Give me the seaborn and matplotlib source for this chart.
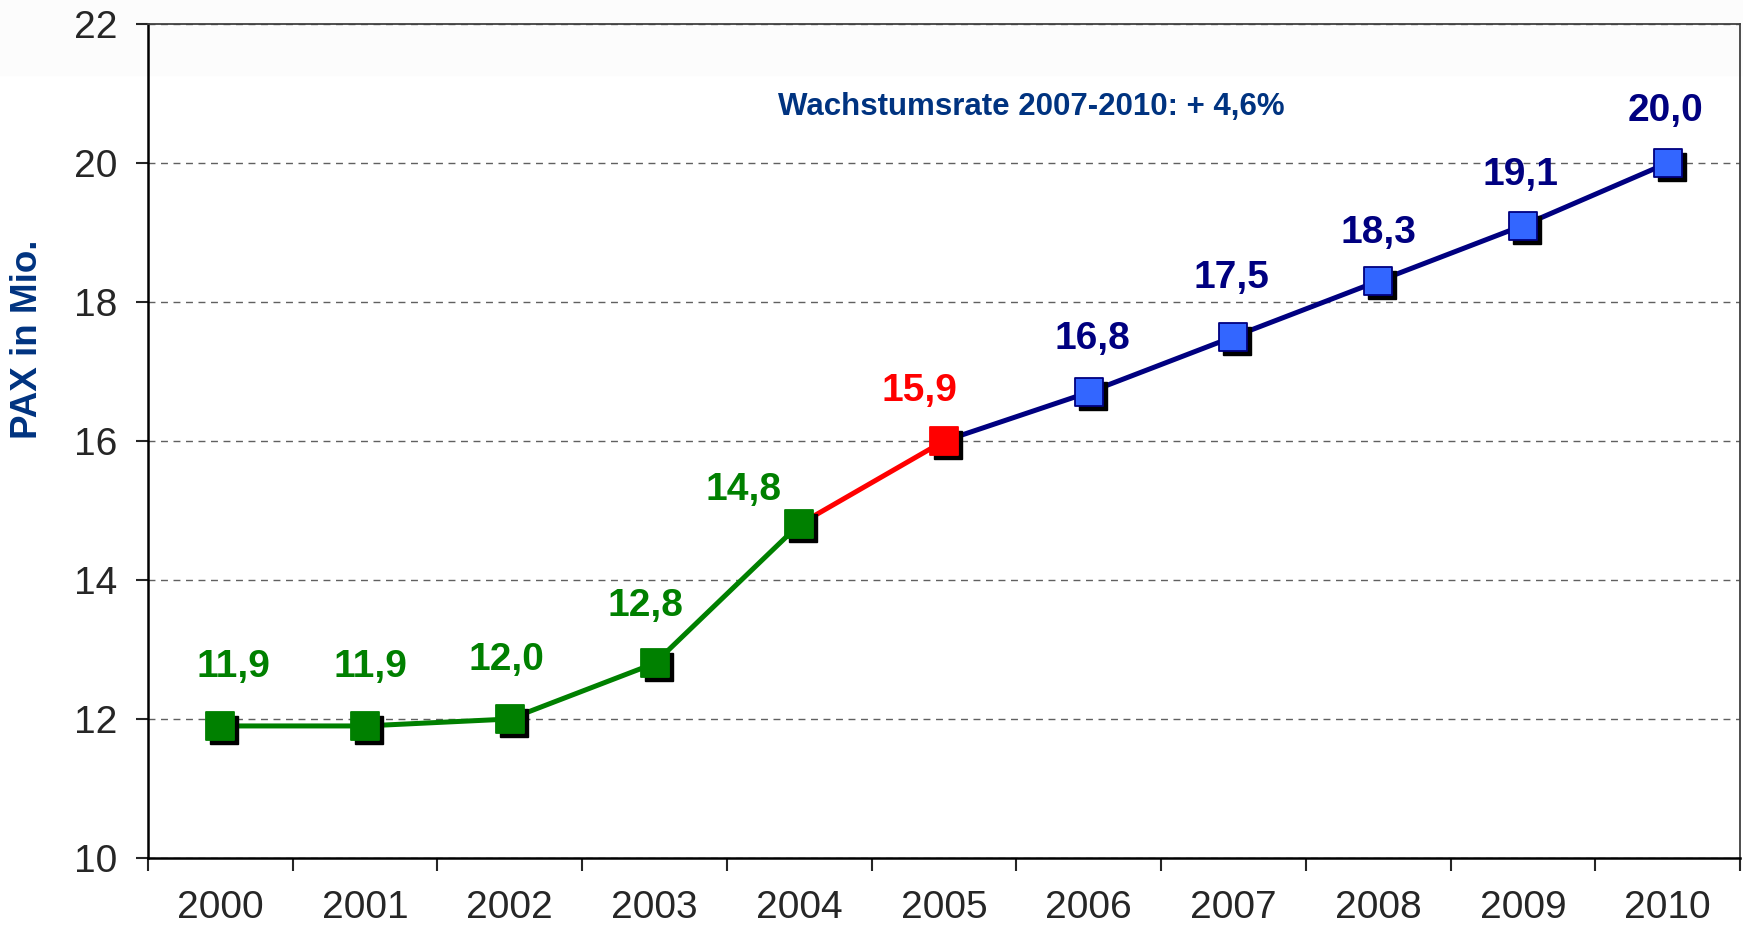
import matplotlib
matplotlib.use("Agg")
import matplotlib.pyplot as plt
import matplotlib.transforms as mtransforms
from matplotlib.patches import Rectangle
import pandas as pd
import seaborn as sns

# data
years = ["2000", "2001", "2002", "2003", "2004", "2005", "2006", "2007", "2008", "2009", "2010"]
pax = [11.9, 11.9, 12.0, 12.8, 14.8, 16.0, 16.7, 17.5, 18.3, 19.1, 20.0]
value_labels = ["11,9", "11,9", "12,0", "12,8", "14,8", "15,9", "16,8", "17,5", "18,3", "19,1", "20,0"]
phase = ["hist"] * 5 + ["ref"] + ["prog"] * 5
growth_note = "Wachstumsrate 2007-2010: + 4,6%"
y_title = "PAX in Mio."

GREEN = "#008000"
RED = "#FF0000"
NAVY = "#000080"
BLUE = "#3366FF"
TITLE_BLUE = "#003380"

# label offsets in pixels relative to the marker
label_offsets = [(13, 59), (5, 59), (-3, 59), (-9, 57), (-56, 34), (-25, 50),
                 (4, 53), (-2, 59), (0, 48), (-2, 51), (-2, 52)]

sns.set_style("ticks")
plt.rcParams["font.family"] = ["Liberation Sans", "DejaVu Sans"]

df = pd.DataFrame({"pos": range(len(years)), "pax": pax, "phase": phase})

fig = plt.figure(figsize=(17.43, 9.31), dpi=100)
fig.patch.set_facecolor("white")
fig.add_artist(Rectangle((0, 1 - 75 / 931), 1, 75 / 931, transform=fig.transFigure,
                         color="#fcfcfc", zorder=-5))
ax = fig.add_axes([148 / 1743, 1 - 858 / 931, (1740 - 148) / 1743, (858 - 24) / 931])
ax.set_facecolor("none")

# line segments
seg_specs = [(slice(0, 5), GREEN), (slice(4, 6), RED), (slice(5, 11), NAVY)]
for sl, col in seg_specs:
    sns.lineplot(data=df.iloc[sl], x="pos", y="pax", color=col, linewidth=3.6,
                 estimator=None, sort=False, ax=ax, zorder=2)

# marker shadows
shadow = ax.transData + mtransforms.ScaledTranslation(4 / 100, -4 / 100, fig.dpi_scale_trans)
ax.plot(df["pos"], df["pax"], ls="none", marker="s", ms=20, color="black",
        transform=shadow, zorder=3)

# markers
marker_specs = {"hist": (GREEN, GREEN), "ref": (RED, RED), "prog": (BLUE, NAVY)}
for ph, (fc, ec) in marker_specs.items():
    sub = df[df["phase"] == ph]
    sns.scatterplot(data=sub, x="pos", y="pax", marker="s", s=19.5 ** 2, color=fc,
                    edgecolor=ec, linewidth=1.3, legend=False, ax=ax, zorder=4)

label_colors = {"hist": GREEN, "ref": RED, "prog": NAVY}
for i, txt in enumerate(value_labels):
    dx, dy = label_offsets[i]
    ax.annotate(txt, (i, pax[i]), xytext=(dx, dy), textcoords="offset pixels",
                ha="center", va="center", fontsize=28, fontweight="bold",
                color=label_colors[phase[i]], zorder=5)

ax.text(5.6, 20.8, growth_note, ha="center", va="center", fontsize=22.5,
        fontweight="bold", color=TITLE_BLUE)
fig.text(28 / 1743, 1 - 339 / 931, y_title, rotation=90, ha="center", va="center",
         fontsize=26.5, fontweight="bold", color=TITLE_BLUE)

ax.set_xlim(-0.5, len(years) - 0.5)
ax.set_ylim(10, 22)
ax.set_xticks(range(len(years)))
ax.set_xticklabels(years)
ax.set_xticks([i - 0.5 for i in range(len(years) + 1)], minor=True)
ax.set_yticks(range(10, 23, 2))
ax.set_xlabel("")
ax.set_ylabel("")

ax.tick_params(axis="x", which="major", length=0, pad=23, labelsize=28)
ax.tick_params(axis="x", which="minor", length=9, width=1.5, direction="out")
ax.tick_params(axis="y", length=9, width=1.5, direction="out", pad=13, labelsize=28)

ax.grid(axis="y", linestyle=(0, (5, 4)), color="#606060", linewidth=1)
ax.set_axisbelow(True)

for side in ["left", "bottom"]:
    ax.spines[side].set_color("black")
    ax.spines[side].set_linewidth(1.8)
for side in ["top", "right"]:
    ax.spines[side].set_visible(True)
    ax.spines[side].set_color("#404040")
    ax.spines[side].set_linewidth(1.3)

fig.savefig("out.png", dpi=100)
